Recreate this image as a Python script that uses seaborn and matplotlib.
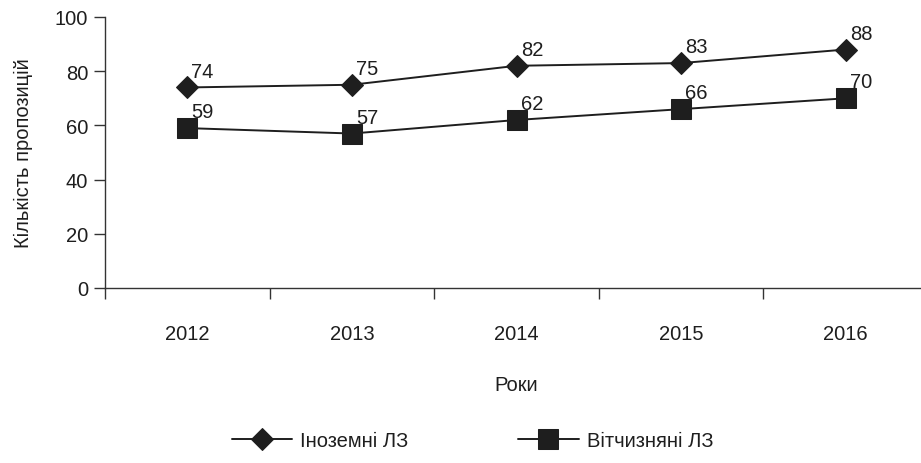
import pandas as pd
import seaborn as sns
import matplotlib.pyplot as plt
from matplotlib.ticker import FixedLocator, NullFormatter

years = ["2012", "2013", "2014", "2015", "2016"]
foreign = [74, 75, 82, 83, 88]
domestic = [59, 57, 62, 66, 70]
series_names = ["Іноземні ЛЗ", "Вітчизняні ЛЗ"]

sns.set_style("white")
plt.rcParams["font.family"] = ["Liberation Sans", "DejaVu Sans"]

df = pd.DataFrame({
    "pos": list(range(len(years))) * 2,
    "value": foreign + domestic,
    "series": [series_names[0]] * len(years) + [series_names[1]] * len(years),
})

ink = "#1e1e1e"
fs = 14.5

fig = plt.figure(figsize=(9.21, 4.64), dpi=100)
ax = fig.add_axes([105 / 921, 175 / 464, 823 / 921, 271 / 464])

sns.lineplot(
    data=df, x="pos", y="value", hue="series", style="series",
    palette=[ink, ink], markers={series_names[0]: "D", series_names[1]: "s"},
    dashes=False, markersize=13, linewidth=1.4, markeredgecolor=ink,
    ax=ax, legend=True,
)

handles, labels = ax.get_legend_handles_labels()
for ln in list(ax.lines) + list(handles):
    if ln.get_marker() == "D":
        ln.set_markersize(11.5)
    elif ln.get_marker() == "s":
        ln.set_markersize(14)

# value labels
for vals in [foreign, domestic]:
    for i, v in enumerate(vals):
        ax.annotate(str(v), (i, v), xytext=(3, 5), textcoords="offset points",
                    fontsize=fs, color=ink, ha="left", va="bottom")

ax.set_xlim(-0.5, len(years) - 0.5)
ax.set_ylim(0, 100)
ax.set_yticks(range(0, 101, 20))
ax.xaxis.set_major_locator(FixedLocator([i - 0.5 for i in range(len(years) + 1)]))
ax.xaxis.set_major_formatter(NullFormatter())
ax.xaxis.set_minor_locator(FixedLocator(list(range(len(years)))))
ax.set_xticklabels(years, minor=True)
ax.tick_params(axis="x", which="major", direction="out", length=8, width=1, color="#333333", bottom=True)
ax.tick_params(axis="x", which="minor", length=0, pad=26, labelsize=fs, labelcolor=ink)
ax.tick_params(axis="y", direction="out", length=8, width=1, color="#333333", left=True,
               labelsize=fs, labelcolor=ink, pad=4)

for side in ["top", "right"]:
    ax.spines[side].set_visible(False)
for side in ["left", "bottom"]:
    ax.spines[side].set_color("#333333")
    ax.spines[side].set_linewidth(1)

ax.set_xlabel("Роки", fontsize=fs, color=ink, labelpad=23)
ax.set_ylabel("Кількість пропозицій", fontsize=fs, color=ink, labelpad=16)

ax.get_legend().remove()
fig.legend(handles, labels, loc="center", bbox_to_anchor=(0.513, 22 / 464), ncol=2,
           frameon=False, fontsize=fs, handlelength=3.0, handletextpad=0.4,
           columnspacing=5.45, labelcolor=ink)

fig.savefig("out.png", dpi=100)
